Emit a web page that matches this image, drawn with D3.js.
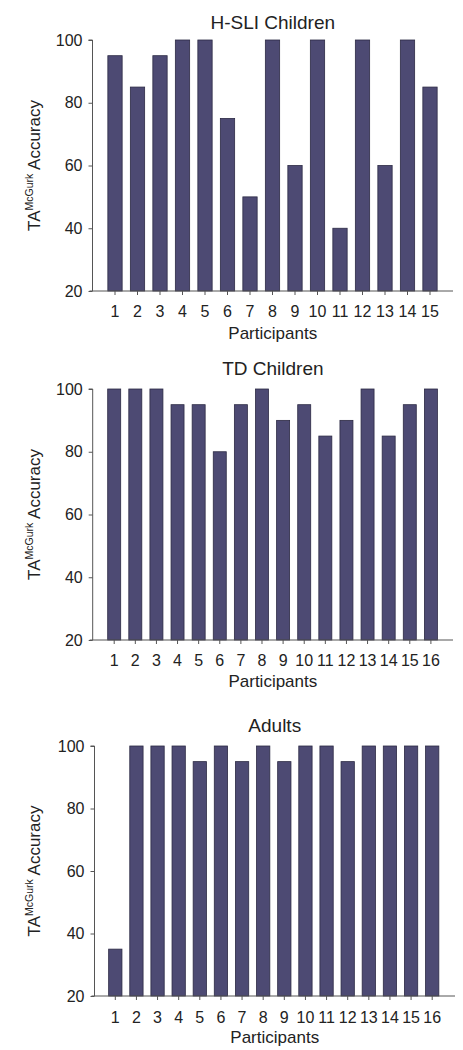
<!DOCTYPE html>
<html><head><meta charset="utf-8">
<script src="https://cdn.jsdelivr.net/npm/d3@7"></script>
<style>
html,body{margin:0;padding:0;background:#fff;}
text{font-family:"Liberation Sans",Arial,sans-serif;fill:#222;}
</style></head>
<body>
<svg id="c" width="463" height="1050"></svg>
<script>
// ---- data ----
const hsliParticipants = d3.range(1, 16).map(String);
const hsliAccuracy = [95, 85, 95, 100, 100, 75, 50, 100, 60, 100, 40, 100, 60, 100, 85];
const tdParticipants = d3.range(1, 17).map(String);
const tdAccuracy = [100, 100, 100, 95, 95, 80, 95, 100, 90, 95, 85, 90, 100, 85, 95, 100];
const adultParticipants = d3.range(1, 17).map(String);
const adultAccuracy = [35, 100, 100, 100, 95, 100, 95, 100, 95, 100, 100, 95, 100, 100, 100, 100];
const yTicks = [20, 40, 60, 80, 100];
const titles = ["H-SLI Children", "TD Children", "Adults"];

// ---- layout ----
const panels = [
  {title: titles[0], cats: hsliParticipants, vals: hsliAccuracy, titleY: 22, top: 40, bottom: 291, axisX: 92.5, xEnd: 453, c1: 115, cN: 430, bw: 14.3, tickY: 311, labY: 333},
  {title: titles[1], cats: tdParticipants, vals: tdAccuracy, titleY: 368, top: 389, bottom: 640, axisX: 92.7, xEnd: 453, c1: 114.2, cN: 430.9, bw: 13.0, tickY: 660, labY: 681},
  {title: titles[2], cats: adultParticipants, vals: adultAccuracy, titleY: 725, top: 746, bottom: 996, axisX: 94.5, xEnd: 455, c1: 115.3, cN: 432.2, bw: 13.3, tickY: 1017, labY: 1037}
];

const svg = d3.select("#c");
const fill = "#4d4a73", stroke = "#2c2a44", axisColor = "#555";

panels.forEach(p => {
  const g = svg.append("g");
  const n = p.cats.length;
  const step = (p.cN - p.c1) / (n - 1);
  const pi = 1 - p.bw / step;
  const x = d3.scaleBand().domain(p.cats)
    .range([p.c1 - step / 2, p.cN + step / 2])
    .paddingInner(pi).paddingOuter(pi / 2);
  const y = d3.scaleLinear().domain([20, 100]).range([p.bottom, p.top]);

  // bars
  g.selectAll("rect.bar").data(p.vals).join("rect")
    .attr("class", "bar")
    .attr("x", (d, i) => x(p.cats[i]))
    .attr("width", x.bandwidth())
    .attr("y", d => y(d))
    .attr("height", d => y(20) - y(d))
    .attr("fill", fill).attr("stroke", stroke).attr("stroke-width", 0.8);

  // y axis
  const ya = g.append("g").attr("transform", `translate(${p.axisX},0)`)
    .call(d3.axisLeft(y).tickValues(yTicks).tickSize(4).tickPadding(6));
  ya.select(".domain").attr("stroke", axisColor).attr("d", `M-4,${y(100)}H0V${y(20)}`);
  ya.selectAll(".tick line").attr("stroke", axisColor);
  ya.selectAll(".tick text").attr("font-size", 16).style("fill", "#222");

  // x axis
  const xa = g.append("g").attr("transform", `translate(0,${p.bottom})`)
    .call(d3.axisBottom(x).tickSize(4).tickPadding(0));
  xa.select(".domain").attr("stroke", axisColor).attr("d", `M${p.axisX - 3},0H${p.xEnd}`);
  xa.selectAll(".tick line").attr("stroke", axisColor);
  xa.selectAll(".tick text").attr("font-size", 16).attr("dy", null)
    .attr("y", p.tickY - p.bottom).attr("dominant-baseline", "central").style("fill", "#222");

  const cx = (p.axisX + p.xEnd) / 2;
  // title
  g.append("text").attr("x", cx).attr("y", p.titleY).attr("text-anchor", "middle")
    .attr("dominant-baseline", "central").attr("font-size", 19).text(p.title);
  // x label
  g.append("text").attr("x", cx).attr("y", p.labY).attr("text-anchor", "middle")
    .attr("dominant-baseline", "central").attr("font-size", 17).text("Participants");
  // y label
  const cy = (p.top + p.bottom) / 2;
  const yl = g.append("text").attr("transform", `translate(40,${cy}) rotate(-90)`)
    .attr("text-anchor", "middle").attr("font-size", 17);
  yl.append("tspan").text("TA");
  yl.append("tspan").attr("font-size", 10.5).attr("dy", -7).text("McGurk");
  yl.append("tspan").attr("dy", 7).text(" Accuracy");
});
</script>
</body></html>
